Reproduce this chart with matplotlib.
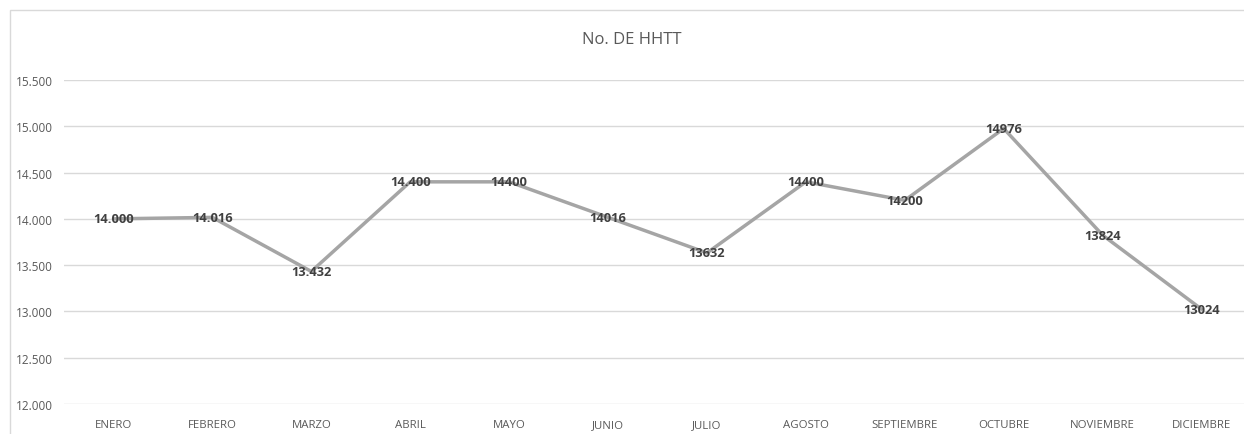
import matplotlib
matplotlib.use("Agg")
import matplotlib.pyplot as plt
from matplotlib.patches import Rectangle

months = ["ENERO", "FEBRERO", "MARZO", "ABRIL", "MAYO", "JUNIO", "JULIO",
          "AGOSTO", "SEPTIEMBRE", "OCTUBRE", "NOVIEMBRE", "DICIEMBRE"]
hhtt = [14000, 14016, 13432, 14400, 14400, 14016, 13632,
        14400, 14200, 14976, 13824, 13024]
point_labels = ["14.000", "14.016", "13.432", "14.400", "14400", "14016", "13632",
                "14400", "14200", "14976", "13824", "13024"]
y_ticks = [12000, 12500, 13000, 13500, 14000, 14500, 15000, 15500]
y_tick_labels = ["12.000", "12.500", "13.000", "13.500", "14.000", "14.500", "15.000", "15.500"]
title = "No. DE HHTT"

font = "Open Sans"

W, H = 1244, 435
fig = plt.figure(figsize=(W / 100, H / 100), dpi=100)

# outer chart frame
fig.patches.append(Rectangle((10 / W, -0.05), 1.1, (H - 11) / H + 0.05,
                             transform=fig.transFigure, fill=False,
                             edgecolor="#d9d9d9", linewidth=1.0))

left, right = 64, 1251
top, bottom = 81, 405
ax = fig.add_axes([left / W, 1 - bottom / H, (right - left) / W, (bottom - top) / H])
x = list(range(len(months)))
ax.plot(x, hhtt, color="#a5a5a5", linewidth=2.5, solid_capstyle="round", zorder=3)

for xi, yi, lab in zip(x, hhtt, point_labels):
    ax.text(xi, yi, lab, ha="center", va="center", fontsize=9.3, fontweight="bold",
            color="#404040", family=font, zorder=4)

ax.set_xlim(-0.5, len(months) - 0.5)
ax.set_ylim(12000, 15500)
ax.set_yticks(y_ticks)
ax.set_yticklabels(y_tick_labels, family=font, fontsize=8.5, color="#595959")
ax.set_xticks(x)
ax.set_xticklabels(months, family=font, fontsize=8.2, color="#595959")
ax.tick_params(length=0, pad=8)
ax.tick_params(axis="x", pad=11)
ax.grid(axis="y", color="#d9d9d9", linewidth=1.0)
ax.set_axisbelow(True)
for s in ax.spines.values():
    s.set_visible(False)

fig.text(632 / W, 1 - 40 / H, title, ha="center", va="center", fontsize=12,
         color="#595959", family=font)

fig.savefig("out.png", dpi=100)
